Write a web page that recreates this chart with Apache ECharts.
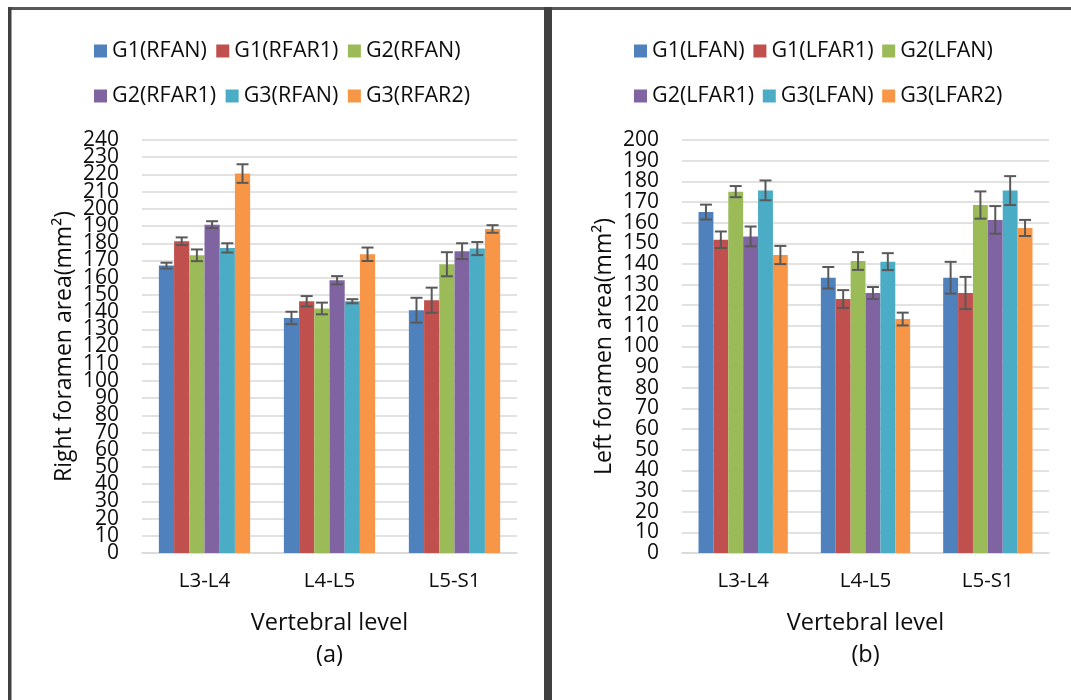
<!DOCTYPE html>
<html>
<head>
<meta charset="utf-8">
<script src="https://cdn.jsdelivr.net/npm/echarts@6/dist/echarts.min.js"></script>
<style>
  html, body { margin: 0; padding: 0; background: #ffffff; }
  #chart { width: 1071px; height: 700px; }
</style>
</head>
<body>
<div id="chart"></div>
<script>
// Vertebral levels shared by both panels
const levels = ['L3-L4', 'L4-L5', 'L5-S1'];

// Panel (a): right foramen area, mean and error per group
const rightNames = ['G1(RFAN)', 'G1(RFAR1)', 'G2(RFAN)', 'G2(RFAR1)', 'G3(RFAN)', 'G3(RFAR2)'];
const g1Rfan   = [167.0, 136.6, 141.1];
const g1Rfar1  = [181.2, 146.3, 146.9];
const g2Rfan   = [173.0, 142.1, 167.8];
const g2Rfar1  = [190.8, 158.5, 175.4];
const g3Rfan   = [177.3, 146.3, 176.9];
const g3Rfar2  = [220.5, 173.6, 188.3];
const g1RfanErr  = [1.7, 3.6, 7.2];
const g1Rfar1Err = [2.2, 3.0, 7.3];
const g2RfanErr  = [3.4, 3.4, 7.0];
const g2Rfar1Err = [2.0, 2.4, 4.6];
const g3RfanErr  = [2.7, 1.2, 3.8];
const g3Rfar2Err = [5.4, 3.9, 2.2];

// Panel (b): left foramen area, mean and error per group
const leftNames = ['G1(LFAN)', 'G1(LFAR1)', 'G2(LFAN)', 'G2(LFAR1)', 'G3(LFAN)', 'G3(LFAR2)'];
const g1Lfan   = [165.1, 133.3, 133.3];
const g1Lfar1  = [151.7, 123.0, 125.9];
const g2Lfan   = [175.0, 141.4, 168.5];
const g2Lfar1  = [153.3, 125.9, 161.3];
const g3Lfan   = [175.6, 141.1, 175.5];
const g3Lfar2  = [144.3, 113.3, 157.4];
const g1LfanErr  = [3.6, 5.2, 7.7];
const g1Lfar1Err = [4.0, 4.3, 7.8];
const g2LfanErr  = [2.7, 4.3, 6.6];
const g2Lfar1Err = [4.8, 2.9, 6.7];
const g3LfanErr  = [4.8, 4.1, 7.0];
const g3Lfar2Err = [4.4, 3.1, 3.9];

// Axis ranges
const rightMax = 240;
const leftMax = 200;
const tickStep = 10;

const colors = ['#4F81BD', '#C0504D', '#9BBB59', '#8064A2', '#4BACC6', '#F79646'];
const FONT = 'Open Sans';
const TEXT = '#0d0d0d';
const GAP = 0.27;

const rightMeans = [g1Rfan, g1Rfar1, g2Rfan, g2Rfar1, g3Rfan, g3Rfar2];
const rightErrs  = [g1RfanErr, g1Rfar1Err, g2RfanErr, g2Rfar1Err, g3RfanErr, g3Rfar2Err];
const leftMeans  = [g1Lfan, g1Lfar1, g2Lfan, g2Lfar1, g3Lfan, g3Lfar2];
const leftErrs   = [g1LfanErr, g1Lfar1Err, g2LfanErr, g2Lfar1Err, g3LfanErr, g3Lfar2Err];

function barSeries(names, means, axis) {
  return names.map((n, i) => ({
    name: n,
    type: 'bar',
    xAxisIndex: axis,
    yAxisIndex: axis * 2,
    data: means[i],
    itemStyle: { color: colors[i] },
    barGap: '0%',
    barCategoryGap: (GAP * 100) + '%',
    z: 2
  }));
}

// I-beam error bars placed over the matching bar of the group
function errorSeries(names, means, errs, axis) {
  return names.map((n, i) => ({
    type: 'custom',
    name: n + ' error',
    xAxisIndex: axis,
    yAxisIndex: axis * 2,
    z: 5,
    silent: true,
    encode: { x: 0, y: 1 },
    data: means[i].map((v, k) => [k, v, errs[i][k]]),
    renderItem: function (params, api) {
      const k = api.value(0), v = api.value(1), e = api.value(2);
      const base = api.coord([k, v]);
      const band = api.size([1, 0])[0];
      const bw = band * (1 - GAP) / 6;
      const cx = base[0] + (i - 2.5) * bw;
      const yTop = api.coord([k, v + e])[1];
      const yBot = api.coord([k, v - e])[1];
      const half = 6;
      const style = { stroke: '#595959', lineWidth: 2 };
      return {
        type: 'group',
        children: [
          { type: 'line', shape: { x1: cx, y1: yTop, x2: cx, y2: yBot }, style: style },
          { type: 'line', shape: { x1: cx - half, y1: yTop, x2: cx + half, y2: yTop }, style: style },
          { type: 'line', shape: { x1: cx - half, y1: yBot, x2: cx + half, y2: yBot }, style: style }
        ]
      };
    }
  }));
}

function legendRow(names, left, top, textW, gap) {
  return {
    data: names,
    left: left,
    top: top,
    orient: 'horizontal',
    icon: 'rect',
    itemWidth: 13,
    itemHeight: 13,
    itemGap: gap,
    selectedMode: false,
    textStyle: { fontFamily: FONT, fontSize: 21.5, color: TEXT, width: textW, overflow: 'none' }
  };
}

const labelStyle = { fontFamily: FONT, fontSize: 21, color: TEXT, margin: 23 };

// Main value axis: gridlines, title and the inner tick labels
function yAxis(gridIndex, max, title) {
  return {
    type: 'value',
    gridIndex: gridIndex,
    position: 'left',
    min: 0,
    max: max,
    interval: tickStep,
    name: title,
    nameLocation: 'middle',
    nameGap: 66,
    nameMoveOverlap: false,
    nameTextStyle: { fontFamily: FONT, fontSize: 23, color: TEXT },
    axisLine: { show: false },
    axisTick: { show: false },
    axisLabel: Object.assign({ showMinLabel: false, showMaxLabel: false }, labelStyle),
    splitLine: { lineStyle: { color: '#D9D9D9', width: 1.5 } }
  };
}

// Companion axis on the same grid carrying the end labels (0 and max)
function yAxisEnds(gridIndex, max) {
  return {
    type: 'value',
    gridIndex: gridIndex,
    position: 'left',
    offset: 0,
    min: 0,
    max: max,
    interval: tickStep,
    axisLine: { show: false },
    axisTick: { show: false },
    splitLine: { show: false },
    axisLabel: Object.assign({
      showMinLabel: true, showMaxLabel: true,
      formatter: v => (v === 0 || v === max) ? String(v) : ''
    }, labelStyle)
  };
}

function xAxis(gridIndex) {
  return {
    type: 'category',
    gridIndex: gridIndex,
    data: levels,
    name: 'Vertebral level',
    nameLocation: 'middle',
    nameGap: 58,
    nameMoveOverlap: false,
    nameTextStyle: { fontFamily: FONT, fontSize: 23.5, color: TEXT },
    axisLine: { lineStyle: { color: '#D9D9D9', width: 1.5 } },
    axisTick: { show: false },
    axisLabel: { fontFamily: FONT, fontSize: 20.5, color: TEXT, margin: 18 }
  };
}

const chart = echarts.init(document.getElementById('chart'), null, { renderer: 'canvas' });

chart.setOption({
  backgroundColor: '#ffffff',
  animation: false,
  grid: [
    { left: 142, right: 554, top: 140, bottom: 147 },
    { left: 682, right: 22, top: 140, bottom: 147 }
  ],
  legend: [
    legendRow(rightNames.slice(0, 3), 89, 35, 104, 9.5),
    legendRow(rightNames.slice(3), 89, 80, 104, 9.5),
    legendRow(leftNames.slice(0, 3), 629, 35, 100, 8.7),
    legendRow(leftNames.slice(3), 629, 80, 100, 8.7)
  ],
  xAxis: [xAxis(0), xAxis(1)],
  yAxis: [
    yAxis(0, rightMax, 'Right foramen area(mm\u00B2)'),
    yAxisEnds(0, rightMax),
    yAxis(1, leftMax, 'Left foramen area(mm\u00B2)'),
    yAxisEnds(1, leftMax)
  ],
  series: [].concat(
    barSeries(rightNames, rightMeans, 0),
    barSeries(leftNames, leftMeans, 1),
    errorSeries(rightNames, rightMeans, rightErrs, 0),
    errorSeries(leftNames, leftMeans, leftErrs, 1)
  ),
  graphic: [
    // panel frames
    { type: 'rect', shape: { x: 8, y: 7, width: 1063, height: 3 }, style: { fill: '#595959' }, silent: true },
    { type: 'rect', shape: { x: 8, y: 7, width: 3.5, height: 693 }, style: { fill: '#404040' }, silent: true },
    { type: 'rect', shape: { x: 544, y: 7, width: 8, height: 693 }, style: { fill: '#404040' }, silent: true },
    // panel captions
    { type: 'text', x: 329.5, y: 655, style: { text: '(a)', fontFamily: FONT, fontSize: 23.5, fill: TEXT, align: 'center', verticalAlign: 'middle' }, silent: true },
    { type: 'text', x: 865.5, y: 655, style: { text: '(b)', fontFamily: FONT, fontSize: 23.5, fill: TEXT, align: 'center', verticalAlign: 'middle' }, silent: true }
  ]
});
</script>
</body>
</html>
